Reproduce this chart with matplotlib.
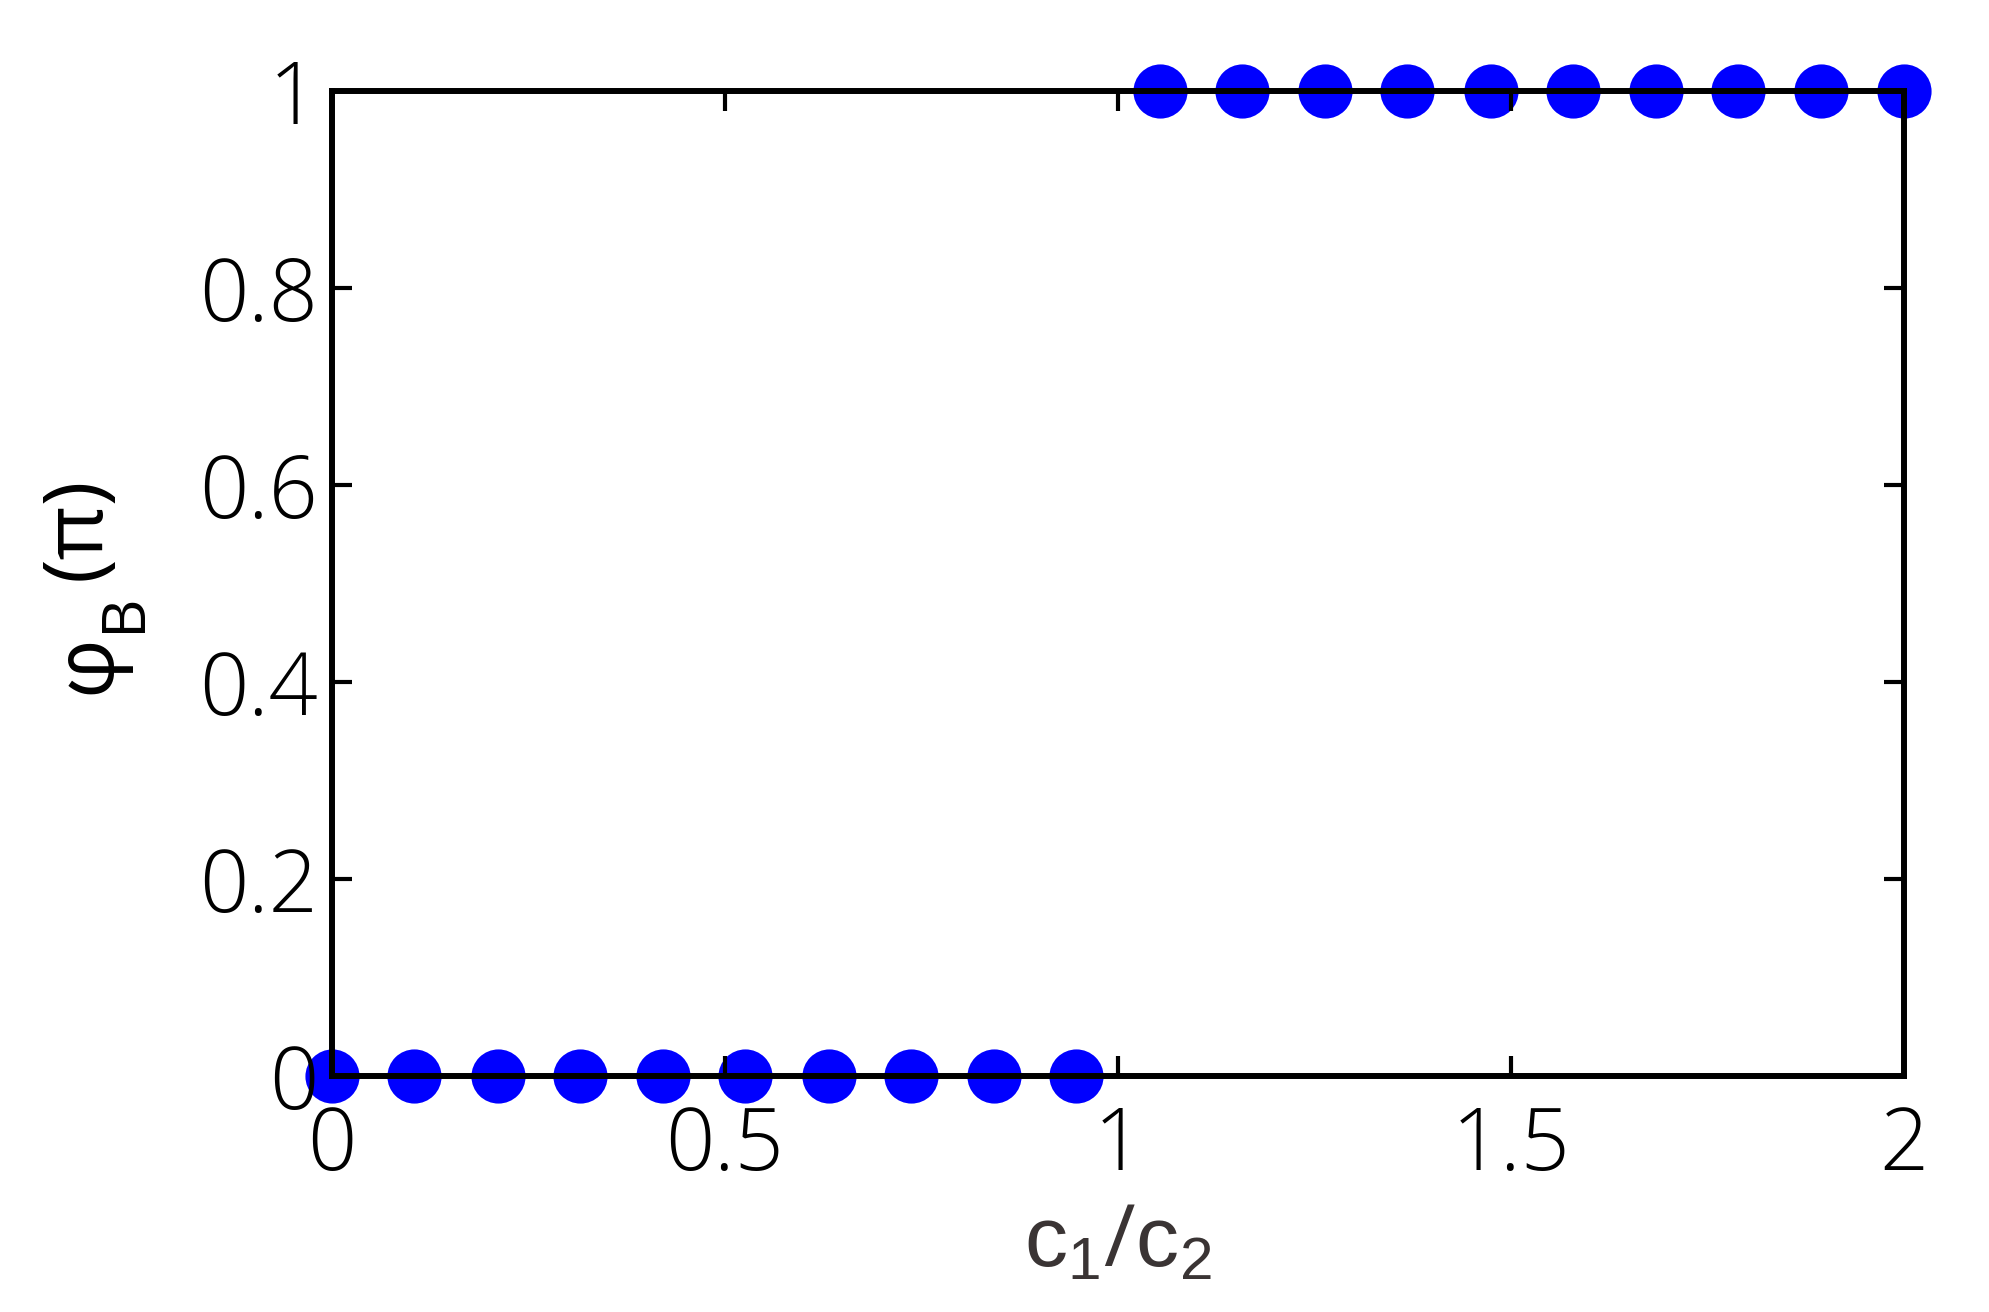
import matplotlib
matplotlib.use("Agg")
import matplotlib.pyplot as plt

# Data
ratio = [0.0, 0.105, 0.211, 0.316, 0.421, 0.526, 0.632, 0.737, 0.842, 0.947,
         1.053, 1.158, 1.263, 1.368, 1.474, 1.579, 1.684, 1.789, 1.895, 2.0]
phase = [0, 0, 0, 0, 0, 0, 0, 0, 0, 0,
         1, 1, 1, 1, 1, 1, 1, 1, 1, 1]
xticks = [0, 0.5, 1, 1.5, 2]
xticklabels = ['0', '0.5', '1', '1.5', '2']
yticks = [0, 0.2, 0.4, 0.6, 0.8, 1]
yticklabels = ['0', '0.2', '0.4', '0.6', '0.8', '1']

plt.rcParams['font.family'] = ['Open Sans', 'DejaVu Sans']
plt.rcParams['mathtext.fontset'] = 'custom'
plt.rcParams['mathtext.rm'] = 'Open Sans'
plt.rcParams['mathtext.it'] = 'Open Sans'
plt.rcParams['mathtext.sf'] = 'Liberation Sans'

W, H = 1990, 1312
fig = plt.figure(figsize=(W / 100, H / 100), dpi=100)
ax = fig.add_axes([0.1668, 0.1799, 0.79, 0.7507])

ax.plot(ratio, phase, linestyle='none', marker='o', markersize=39,
        color='#0000ff', markeredgewidth=0, clip_on=False, zorder=1)

ax.set_xlim(0, 2)
ax.set_ylim(0, 1)
ax.set_xticks(xticks)
ax.set_xticklabels(xticklabels, fontweight='light')
ax.set_yticks(yticks)
ax.set_yticklabels(yticklabels, fontweight='light')

for s in ax.spines.values():
    s.set_linewidth(4.3)
    s.set_color('black')
    s.set_zorder(3)

ax.tick_params(direction='in', length=14.5, width=3, top=True, right=True,
               labelsize=62, colors='black')
ax.tick_params(axis='y', pad=10)
ax.tick_params(axis='x', pad=20)

ax.set_xlabel(r'$\mathsf{c}_\mathsf{1}/\mathsf{c}_\mathsf{2}$', fontsize=62,
              color='#3a3434', labelpad=7)

# y-axis label built from pieces (large, well-lowered subscript)
def px(x, y):
    return x / W, 1 - y / H

fig.text(*px(88, 664), 'φ', fontsize=60, rotation=90, ha='center', va='center')
fig.text(*px(124, 612), 'B', fontsize=44, rotation=90, ha='center', va='center')
fig.text(*px(78, 528), '(π)', fontsize=60, rotation=90, ha='center', va='center')

fig.savefig('out.png', dpi=100, facecolor='white')
